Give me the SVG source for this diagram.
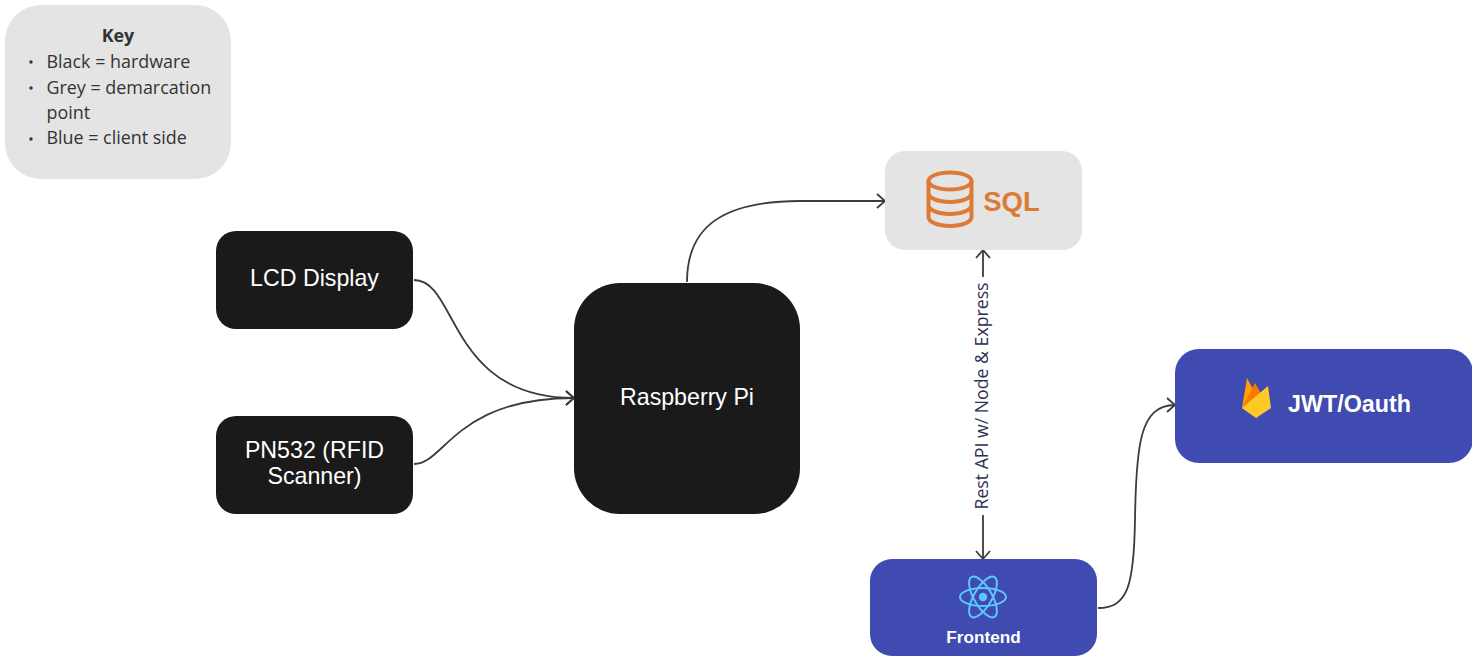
<svg xmlns="http://www.w3.org/2000/svg" width="1472" height="656" viewBox="0 0 1472 656">
<style>
.black{fill:#1a1a1a}
.blue{fill:#3f4bb0}
.grey{fill:#e4e4e4}
.label{font-family:"Liberation Sans",Arial,sans-serif;fill:#fff;text-anchor:middle;font-size:23.2px}
.bold{font-weight:700}
.key{font-family:"Open Sans","Noto Sans",sans-serif;font-size:17.9px;fill:#333}
.conn{fill:none;stroke:#3c3c3c;stroke-width:1.8}
.sql{fill:none;stroke:#dd7a37;stroke-width:4}
.react{fill:none;stroke:#5cc8fa;stroke-width:2}
</style>
<defs>
<marker id="arrow" viewBox="0 0 12 16" refX="10.5" refY="8" markerWidth="12" markerHeight="16" markerUnits="userSpaceOnUse" orient="auto-start-reverse">
<path d="M2.5 1 L10.5 8 L2.5 15" fill="none" stroke="#3c3c3c" stroke-width="1.8"/>
</marker>
</defs>
<rect width="1472" height="656" fill="#fff"/>
<g id="connectors">
<path class="conn" marker-end="url(#arrow)" d="M414 280 C458 280 448 398 574 398"/>
<path class="conn" marker-end="url(#arrow)" d="M414 464 C445 464 455 398 574 398"/>
<path class="conn" marker-end="url(#arrow)" d="M687 282 C687 225 725 201 800 201 L885 201"/>
<path class="conn" marker-start="url(#arrow)" d="M983 250 V277"/>
<path class="conn" marker-end="url(#arrow)" d="M983 515 V559"/>
<path class="conn" marker-end="url(#arrow)" d="M1098 608 C1128 608 1134 585 1135 520 C1136 445 1140 405 1175 405"/>
</g>
<text transform="translate(988,396) rotate(-90)" font-family="'Open Sans','Noto Sans',sans-serif" font-size="17.700" fill="#2d3150" text-anchor="middle">Rest API w/ Node &amp; Express</text>
<g id="key">
<rect class="grey" x="5" y="5" width="226" height="174" rx="36"/>
<text class="key" x="118" y="42" text-anchor="middle" font-weight="700">Key</text>
<circle cx="31" cy="62" r="1.700" fill="#333"/>
<text class="key" x="46.500" y="68">Black = hardware</text>
<circle cx="31" cy="88" r="1.700" fill="#333"/>
<text class="key" x="46.500" y="93.500">Grey = demarcation</text>
<text class="key" x="46.500" y="119">point</text>
<circle cx="31" cy="139" r="1.700" fill="#333"/>
<text class="key" x="46.500" y="144">Blue = client side</text>
</g>
<g id="lcd">
<rect class="black" x="216" y="231" width="197" height="98" rx="20"/>
<text class="label" x="314.500" y="286">LCD Display</text>
</g>
<g id="pn532">
<rect class="black" x="216" y="416" width="197" height="98" rx="20"/>
<text class="label" x="314.500" y="458">PN532 (RFID</text>
<text class="label" x="314.500" y="484">Scanner)</text>
</g>
<g id="pi">
<rect class="black" x="574" y="283" width="226" height="231" rx="46"/>
<text class="label" x="687" y="405">Raspberry Pi</text>
</g>
<g id="sql">
<rect class="grey" x="885" y="151" width="197" height="99" rx="20"/>
<ellipse class="sql" cx="950" cy="181" rx="21.500" ry="8.500"/>
<path class="sql" d="M928.500 181 V217 C928.500 222 938 226 950 226 C962 226 971.500 222 971.500 217 V181 M928.500 193 C928.500 198 938 202 950 202 C962 202 971.500 198 971.500 193 M928.500 205 C928.500 210 938 214 950 214 C962 214 971.500 210 971.500 205"/>
<text x="1011.500" y="211" font-family="'Liberation Sans',sans-serif" font-size="27.500" font-weight="700" fill="#dd7a37" text-anchor="middle">SQL</text>
</g>
<g id="frontend">
<rect class="blue" x="870" y="559" width="227" height="97" rx="22"/>
<ellipse class="react" cx="983" cy="597" rx="23" ry="9"/>
<ellipse class="react" cx="983" cy="597" rx="23" ry="9" transform="rotate(60 983 597)"/>
<ellipse class="react" cx="983" cy="597" rx="23" ry="9" transform="rotate(120 983 597)"/>
<circle cx="983" cy="597" r="4.200" fill="#5cc8fa"/>
<text class="label bold" x="983.500" y="643" style="font-size:17.200px">Frontend</text>
</g>
<g id="jwt">
<rect class="blue" x="1175" y="349" width="298" height="114" rx="24"/>
<path d="M1242 408 L1247 378 L1258 398 Z" fill="#ffa000"/>
<path d="M1242 408 L1255 383 L1263 397 L1257 418 Z" fill="#f57c00"/>
<path d="M1242 408 L1268 386 L1271 408 L1256 418 Z" fill="#ffca28"/>
<text class="label bold" x="1349.500" y="412" style="font-size:23.300px">JWT/Oauth</text>
</g>
</svg>
